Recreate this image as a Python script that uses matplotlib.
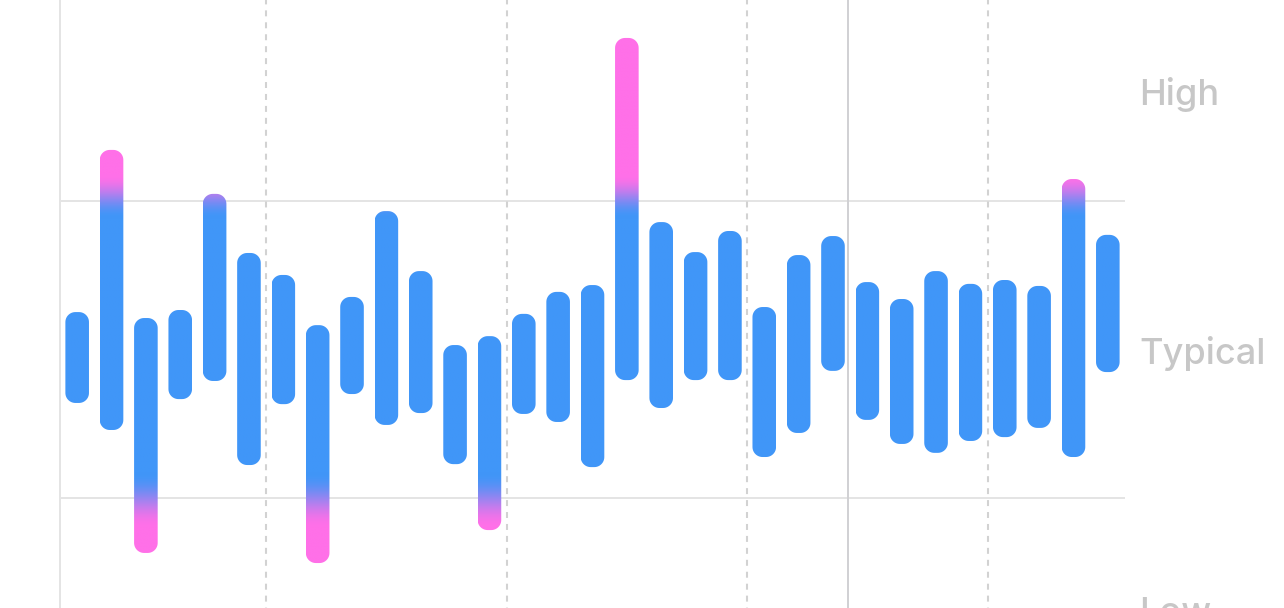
import numpy as np
import matplotlib
matplotlib.use("Agg")
import matplotlib.pyplot as plt
from matplotlib.path import Path
from matplotlib.patches import PathPatch

plt.rcParams['font.family'] = ['Inter', 'DejaVu Sans']
plt.rcParams['lines.scale_dashes'] = False

# ---- data (arbitrary units: 0 = low threshold, 100 = high threshold) ----
bar_top = [62.6, 117.2, 60.6, 63.3, 102.4, 82.5, 75.1, 58.2, 67.7, 96.6,
           76.4, 51.5, 54.5, 62.0, 69.4, 71.7, 154.9, 92.9, 82.8, 89.9,
           64.3, 81.8, 88.2, 72.7, 67.0, 76.4, 72.1, 73.4, 71.4, 107.4, 88.6]
bar_bottom = [32.0, 22.9, -18.5, 33.3, 39.4, 11.1, 31.6, -21.9, 35.0, 24.6,
              28.6, 11.4, -10.8, 28.3, 25.6, 10.4, 39.7, 30.3, 39.7, 39.7,
              13.8, 21.9, 42.8, 26.3, 18.2, 15.2, 19.2, 20.5, 23.6, 13.8, 42.4]
threshold_low = 0.0
threshold_high = 100.0
week_breaks = [5.5, 12.5, 19.5, 26.5]
month_break = 22.44
zone_labels = ["High", "Typical", "Low"]
zone_label_y = [132.3, 45.1, -42.1]

BLUE = np.array([64, 150, 248]) / 255
PINK = np.array([255, 112, 232]) / 255

W, H, DPI = 1284, 608, 100
fig = plt.figure(figsize=(W / DPI, H / DPI), dpi=DPI)
ax = fig.add_axes([0, 0, 1, 1])
n = len(bar_top)
xs = np.arange(n)

# axis limits: plot area from -0.5 to n-0.5 occupying px 60..1125
px_per_x = 1065 / n
x_left = -0.5 - 60 / px_per_x
x_right = (n - 0.5) + (W - 1125) / px_per_x
px_per_y = 2.97
y_bot = threshold_low - (H - 498) / px_per_y
y_top = threshold_low + 498 / px_per_y
ax.set_xlim(x_left, x_right)
ax.set_ylim(y_bot, y_top)
ax.axis('off')

# grid
ax.hlines([threshold_high, threshold_low], -0.5, n - 0.5, color='#e4e4e4', lw=1.4, zorder=1)
ax.axvline(-0.5, color='#e4e4e4', lw=1.4, zorder=1)
for wb in week_breaks:
    ax.axvline(wb, color='#d2d2d2', lw=1.5, linestyle=(4, (4.3, 4.3)), zorder=1)
ax.axvline(month_break, color='#d0d0d3', lw=1.4, zorder=1)

# gradient colour along y
ny = 800
yy = np.linspace(y_bot, y_top, ny)
def smooth(t):
    t = np.clip(t, 0, 1)
    return t * t * (3 - 2 * t)
up_blue, up_pink = 94.3, 108.8
lo_blue, lo_pink = 8.4, -9.8
w_pink = np.maximum(smooth((yy - up_blue) / (up_pink - up_blue)),
                    smooth((lo_blue - yy) / (lo_blue - lo_pink)))
grad = (1 - w_pink)[:, None] * BLUE[None, :] + w_pink[:, None] * PINK[None, :]
grad_img = np.repeat(grad[:, None, :], 2, axis=1)

bar_w = 23.6 / px_per_x
r_px = 10.0
rx = r_px / px_per_x
ry = r_px / px_per_y

def rounded_bar(xc, y0, y1):
    xl, xr = xc - bar_w / 2, xc + bar_w / 2
    pts = []
    th = np.linspace(0, np.pi / 2, 14)
    cx, cy = xr - rx, y1 - ry
    pts += list(zip(cx + rx * np.cos(th), cy + ry * np.sin(th)))
    cx, cy = xl + rx, y1 - ry
    pts += list(zip(cx + rx * np.cos(th + np.pi / 2), cy + ry * np.sin(th + np.pi / 2)))
    cx, cy = xl + rx, y0 + ry
    pts += list(zip(cx + rx * np.cos(th + np.pi), cy + ry * np.sin(th + np.pi)))
    cx, cy = xr - rx, y0 + ry
    pts += list(zip(cx + rx * np.cos(th + 1.5 * np.pi), cy + ry * np.sin(th + 1.5 * np.pi)))
    pts.append(pts[0])
    codes = [Path.MOVETO] + [Path.LINETO] * (len(pts) - 2) + [Path.CLOSEPOLY]
    return Path(pts, codes)

for x, t, b in zip(xs, bar_top, bar_bottom):
    patch = PathPatch(rounded_bar(x, b, t), facecolor='none', edgecolor='none')
    ax.add_patch(patch)
    im = ax.imshow(grad_img, extent=(x - bar_w / 2, x + bar_w / 2, y_bot, y_top),
                   origin='lower', aspect='auto', interpolation='bilinear', zorder=3)
    im.set_clip_path(patch)

ax.set_xlim(x_left, x_right)
ax.set_ylim(y_bot, y_top)

label_x = -0.5 + (1139 - 60) / px_per_x
for lab, ly in zip(zone_labels, zone_label_y):
    ax.text(label_x, ly, lab, color='#c7c7c7', fontsize=26, fontweight='medium',
            ha='left', va='baseline', clip_on=False)

fig.savefig("out.png", dpi=DPI)
